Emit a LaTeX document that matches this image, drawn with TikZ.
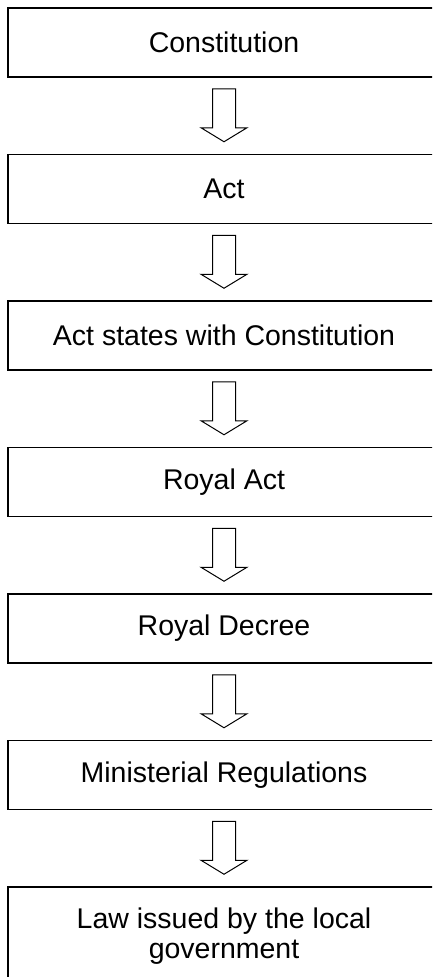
\documentclass[tikz,border=0pt]{standalone}
\usepackage{fontspec}
\setmainfont{Liberation Sans}
\usetikzlibrary{positioning,calc}

\tikzset{
	levelbox/.style={draw, line width=1.5pt, minimum width=432pt, minimum height=69pt,
		inner sep=0pt, align=center, font=\fontsize{28.5}{30.5}\selectfont},
	blockarrow/.style={draw, line width=1pt, line join=miter, fill=white}
}

\begin{document}
\begin{tikzpicture}[x=1pt, y=-1pt, node distance=76pt]
			\useasboundingbox (0,0) rectangle (432,977);
			\clip (0,0) rectangle (432,977);

			\node[levelbox] (constitution) at(224, 42.5){Constitution};
			\node[levelbox, below=of constitution] (act){Act};
			\node[levelbox, below=of act] (actstates){Act states with Constitution};
			\node[levelbox, below=of actstates] (royalact){Royal Act};
			\node[levelbox, below=of royalact] (decree){Royal Decree};
			\node[levelbox, below=of decree] (ministerial){Ministerial Regulations};
			\node[levelbox, below=of ministerial, minimum height=98pt] (local){Law issued by the local\\government};

			\foreach \a/\b in {constitution/act, act/actstates, actstates/royalact,
				royalact/decree, decree/ministerial, ministerial/local}
				\draw[blockarrow] ($(\a.south)+(-11.5,11)$) -- ($(\a.south)+(11.5,11)$)
					-- ($(\b.north)+(11.5,-26)$) -- ($(\b.north)+(23,-26)$)
					-- ($(\b.north)+(0,-12)$)
					-- ($(\b.north)+(-23,-26)$) -- ($(\b.north)+(-11.5,-26)$) -- cycle;
\end{tikzpicture}
\end{document}
